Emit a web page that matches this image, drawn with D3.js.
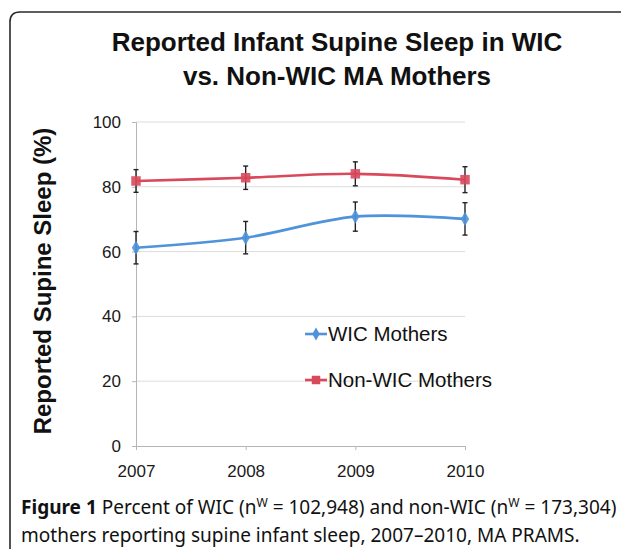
<!DOCTYPE html>
<html><head><meta charset="utf-8">
<script src="https://cdn.jsdelivr.net/npm/d3@7"></script>
<style>body{margin:0;background:#fff}svg{display:block}</style>
</head><body>
<svg id="c" width="621" height="553"></svg>
<script>
const years = ["2007","2008","2009","2010"];
const wicValues = [61.2, 64.3, 70.8, 70.1];
const wicErr = [5.0, 5.0, 4.5, 5.0];
const nonWicValues = [81.8, 82.8, 84.0, 82.2];
const nonWicErr = [3.5, 3.6, 3.7, 4.0];
const yTicks = [0, 20, 40, 60, 80, 100];
const seriesNames = ["WIC Mothers", "Non-WIC Mothers"];

const svg = d3.select("#c");
const x = d3.scalePoint().domain(years).range([136, 465]);
const y = d3.scaleLinear().domain([0, 100]).range([446, 122]);

// frame
svg.append("path").attr("d","M10,549 L10,22 Q10,12 20,12 L621,12")
  .attr("fill","none").attr("stroke","#2a2a2a").attr("stroke-width",1.6);

// title
const tf = "'Liberation Sans', Arial, sans-serif";
svg.append("text").attr("x",337).attr("y",51).attr("text-anchor","middle")
  .attr("font-family",tf).attr("font-weight","bold").attr("font-size",26).attr("fill","#111")
  .text("Reported Infant Supine Sleep in WIC");
svg.append("text").attr("x",337).attr("y",85).attr("text-anchor","middle")
  .attr("font-family",tf).attr("font-weight","bold").attr("font-size",26).attr("fill","#111")
  .text("vs. Non-WIC MA Mothers");

// gridlines
svg.append("g").selectAll("line").data(yTicks.filter(d=>d>0)).join("line")
  .attr("x1",x.range()[0]).attr("x2",x.range()[1])
  .attr("y1",d=>y(d)).attr("y2",d=>y(d))
  .attr("stroke","#dcdcdc").attr("stroke-width",1);

// y axis
const ya = svg.append("g").attr("transform",`translate(${x.range()[0]},0)`)
  .call(d3.axisLeft(y).tickValues(yTicks).tickSize(4).tickPadding(11));
ya.select(".domain").attr("stroke","#b5b5b5");
ya.selectAll(".tick line").attr("stroke","#b5b5b5");
ya.selectAll("text").attr("font-family",tf).attr("font-size",17).attr("fill","#1a1a1a");

// x axis
const xa = svg.append("g").attr("transform",`translate(0,${y(0)})`)
  .call(d3.axisBottom(x).tickSize(4).tickPadding(15).tickSizeOuter(0));
xa.select(".domain").attr("stroke","#b5b5b5");
xa.selectAll(".tick line").attr("stroke","#b5b5b5");
xa.selectAll("text").attr("font-family",tf).attr("font-size",17).attr("fill","#1a1a1a");

// y title
svg.append("text").attr("transform","translate(51,281) rotate(-90)")
  .attr("text-anchor","middle").attr("font-family",tf).attr("font-weight","bold")
  .attr("font-size",24).attr("fill","#111").text("Reported Supine Sleep (%)");

const series = [
  {name: seriesNames[0], values: wicValues, err: wicErr, color: "#4f93db", shape: d3.symbolDiamond, size: 60},
  {name: seriesNames[1], values: nonWicValues, err: nonWicErr, color: "#d9495c", shape: d3.symbolSquare, size: 90}
];

const line = d3.line().x((d,i)=>x(years[i])).y(d=>y(d)).curve(d3.curveCatmullRom.alpha(0.5));

series.forEach(s => {
  const g = svg.append("g");
  g.append("path").attr("d", line(s.values)).attr("fill","none")
    .attr("stroke", s.color).attr("stroke-width", 2.6);
  s.values.forEach((v,i) => {
    const cx = x(years[i]);
    const eg = g.append("g").attr("stroke","#222").attr("stroke-width",1.4);
    eg.append("line").attr("x1",cx).attr("x2",cx).attr("y1",y(v+s.err[i])).attr("y2",y(v-s.err[i]));
    eg.append("line").attr("x1",cx-2.5).attr("x2",cx+2.5).attr("y1",y(v+s.err[i])).attr("y2",y(v+s.err[i]));
    eg.append("line").attr("x1",cx-2.5).attr("x2",cx+2.5).attr("y1",y(v-s.err[i])).attr("y2",y(v-s.err[i]));
  });
  g.selectAll("path.m").data(s.values).join("path").attr("class","m")
    .attr("transform",(d,i)=>`translate(${x(years[i])},${y(d)})`)
    .attr("d", d3.symbol().type(s.shape).size(s.size)).attr("fill", s.color).attr("opacity",0.9);
});

// legend
const legY = [334, 380];
series.forEach((s,i) => {
  const g = svg.append("g").attr("transform",`translate(305,${legY[i]})`);
  g.append("line").attr("x1",0).attr("x2",22).attr("stroke",s.color).attr("stroke-width",2.6);
  g.append("path").attr("transform","translate(11,0)")
    .attr("d", d3.symbol().type(s.shape).size(s.size*0.8)).attr("fill",s.color);
  g.append("text").attr("x",23).attr("y",7).attr("font-family",tf).attr("font-size",20.5)
    .attr("fill","#111").text(s.name);
});

// caption
const cf = "'Noto Sans', 'Open Sans', sans-serif";
const c1 = svg.append("text").attr("x",21).attr("y",514).attr("font-family",cf).attr("font-size",17).attr("fill","#111");
c1.append("tspan").attr("font-weight","bold").text("Figure 1");
c1.append("tspan").text(" Percent of WIC (n");
c1.append("tspan").attr("class","sup").attr("font-size",11).attr("dy",-7).text("W");
c1.append("tspan").attr("dy",7).text(" = 102,948) and non-WIC (n");
c1.append("tspan").attr("class","sup").attr("font-size",11).attr("dy",-7).text("W");
c1.append("tspan").attr("dy",7).text(" = 173,304)");
const c2 = svg.append("text").attr("x",21).attr("y",542).attr("font-family",cf).attr("font-size",17).attr("fill","#111")
  .text("mothers reporting supine infant sleep, 2007\u20132010, MA PRAMS.");
// fit caption line 1 width to the frame by font size
const w1 = c1.node().getComputedTextLength();
const fs = 17 * 596 / w1;
c1.attr("font-size", fs); c2.attr("font-size", fs);
c1.selectAll(".sup").attr("font-size", fs*0.64);
</script>
</body></html>
